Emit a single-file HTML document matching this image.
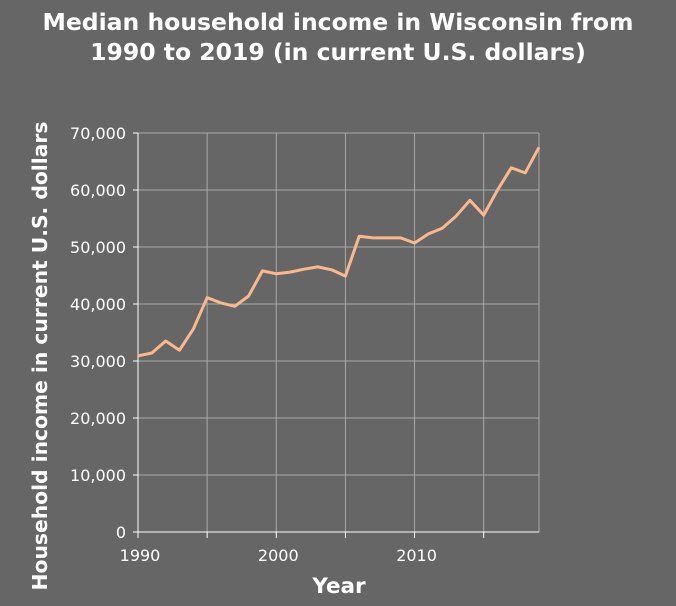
<!DOCTYPE html>
<html><head><meta charset="utf-8"><style>
html,body{margin:0;padding:0;background:#666666;}
svg{display:block;font-family:"DejaVu Sans","Liberation Sans",sans-serif;}
</style></head><body>
<svg id="chart" width="676" height="606" viewBox="0 0 676 606">
<rect width="676" height="606" fill="#666666"/>
<text x="338" y="30" text-anchor="middle" font-size="23.5" font-weight="bold" fill="#ffffff">Median household income in Wisconsin from</text>
<text x="338" y="60" text-anchor="middle" font-size="23.5" font-weight="bold" fill="#ffffff">1990 to 2019 (in current U.S. dollars)</text>
<text x="339" y="593" text-anchor="middle" font-size="21.5" font-weight="bold" fill="#ffffff">Year</text>
<text transform="translate(47,356) rotate(-90)" text-anchor="middle" font-size="20.3" font-weight="bold" fill="#ffffff">Household income in current U.S. dollars</text>
<g id="grid"></g><g id="axes"></g><g id="series"></g>
</svg>
<script>
const years=[1990,1991,1992,1993,1994,1995,1996,1997,1998,1999,2000,2001,2002,2003,2004,2005,2006,2007,2008,2009,2010,2011,2012,2013,2014,2015,2016,2017,2018,2019];
const income=[30900,31400,33500,31900,35600,41100,40200,39600,41400,45800,45300,45600,46100,46500,46000,44900,51900,51600,51600,51600,50700,52300,53300,55400,58200,55600,60000,63900,63000,67500];
const yTicks=[0,10000,20000,30000,40000,50000,60000,70000];
const xTicks=[1990,1995,2000,2005,2010,2015];
const xLabels=["1990","","2000","","2010",""];
const NS="http://www.w3.org/2000/svg";
const L=138,R=539,T=133,B=532;
const x=v=>L+(v-1990)/(2019-1990)*(R-L);
const y=v=>B-v/70000*(B-T);
function mk(tag,attrs,parent){const e=document.createElementNS(NS,tag);for(const k in attrs)e.setAttribute(k,attrs[k]);parent.appendChild(e);return e;}
const grid=document.getElementById('grid'),axes=document.getElementById('axes'),series=document.getElementById('series');
yTicks.forEach(v=>{
 const g=mk('line',{x1:L,x2:R,y1:y(v),y2:y(v),stroke:'#a8a8a8','stroke-width':1},grid);
 
 
 const tk=mk('line',{x1:L-5,x2:L,y1:y(v),y2:y(v),stroke:'#ffffff','stroke-width':1},axes);
 
 
 const t=mk('text',{x:L-12,y:y(v)+6,'text-anchor':'end','font-size':16,fill:'#ffffff'},axes);
 t.textContent=v.toLocaleString('en-US');
 
 
});
xTicks.forEach((v,i)=>{
 const g=mk('line',{x1:x(v),x2:x(v),y1:T,y2:B,stroke:'#a8a8a8','stroke-width':1},grid);
 
 
 const tk=mk('line',{x1:x(v),x2:x(v),y1:B,y2:B+6,stroke:'#ffffff','stroke-width':1},axes);
 
 
 if(xLabels[i]){const t=mk('text',{x:x(v)+2,y:B+29,'text-anchor':'middle','font-size':16,fill:'#ffffff'},axes);
 t.textContent=xLabels[i];
 
 }
});
const rg=mk('line',{x1:R,x2:R,y1:T,y2:B,stroke:'#a8a8a8','stroke-width':1},grid);


const xa=mk('line',{x1:L,x2:R,y1:B,y2:B,stroke:'#ffffff','stroke-width':1},axes);


const ya=mk('line',{x1:L,x2:L,y1:T,y2:B,stroke:'#ffffff','stroke-width':1},axes);


const pts=years.map((yr,i)=>x(yr).toFixed(1)+','+y(income[i]).toFixed(1)).join(' ');
const line=mk('polyline',{points:pts,fill:'none',stroke:'#f9b88f','stroke-width':3,'stroke-linejoin':'round'},series);


</script>
</body></html>
